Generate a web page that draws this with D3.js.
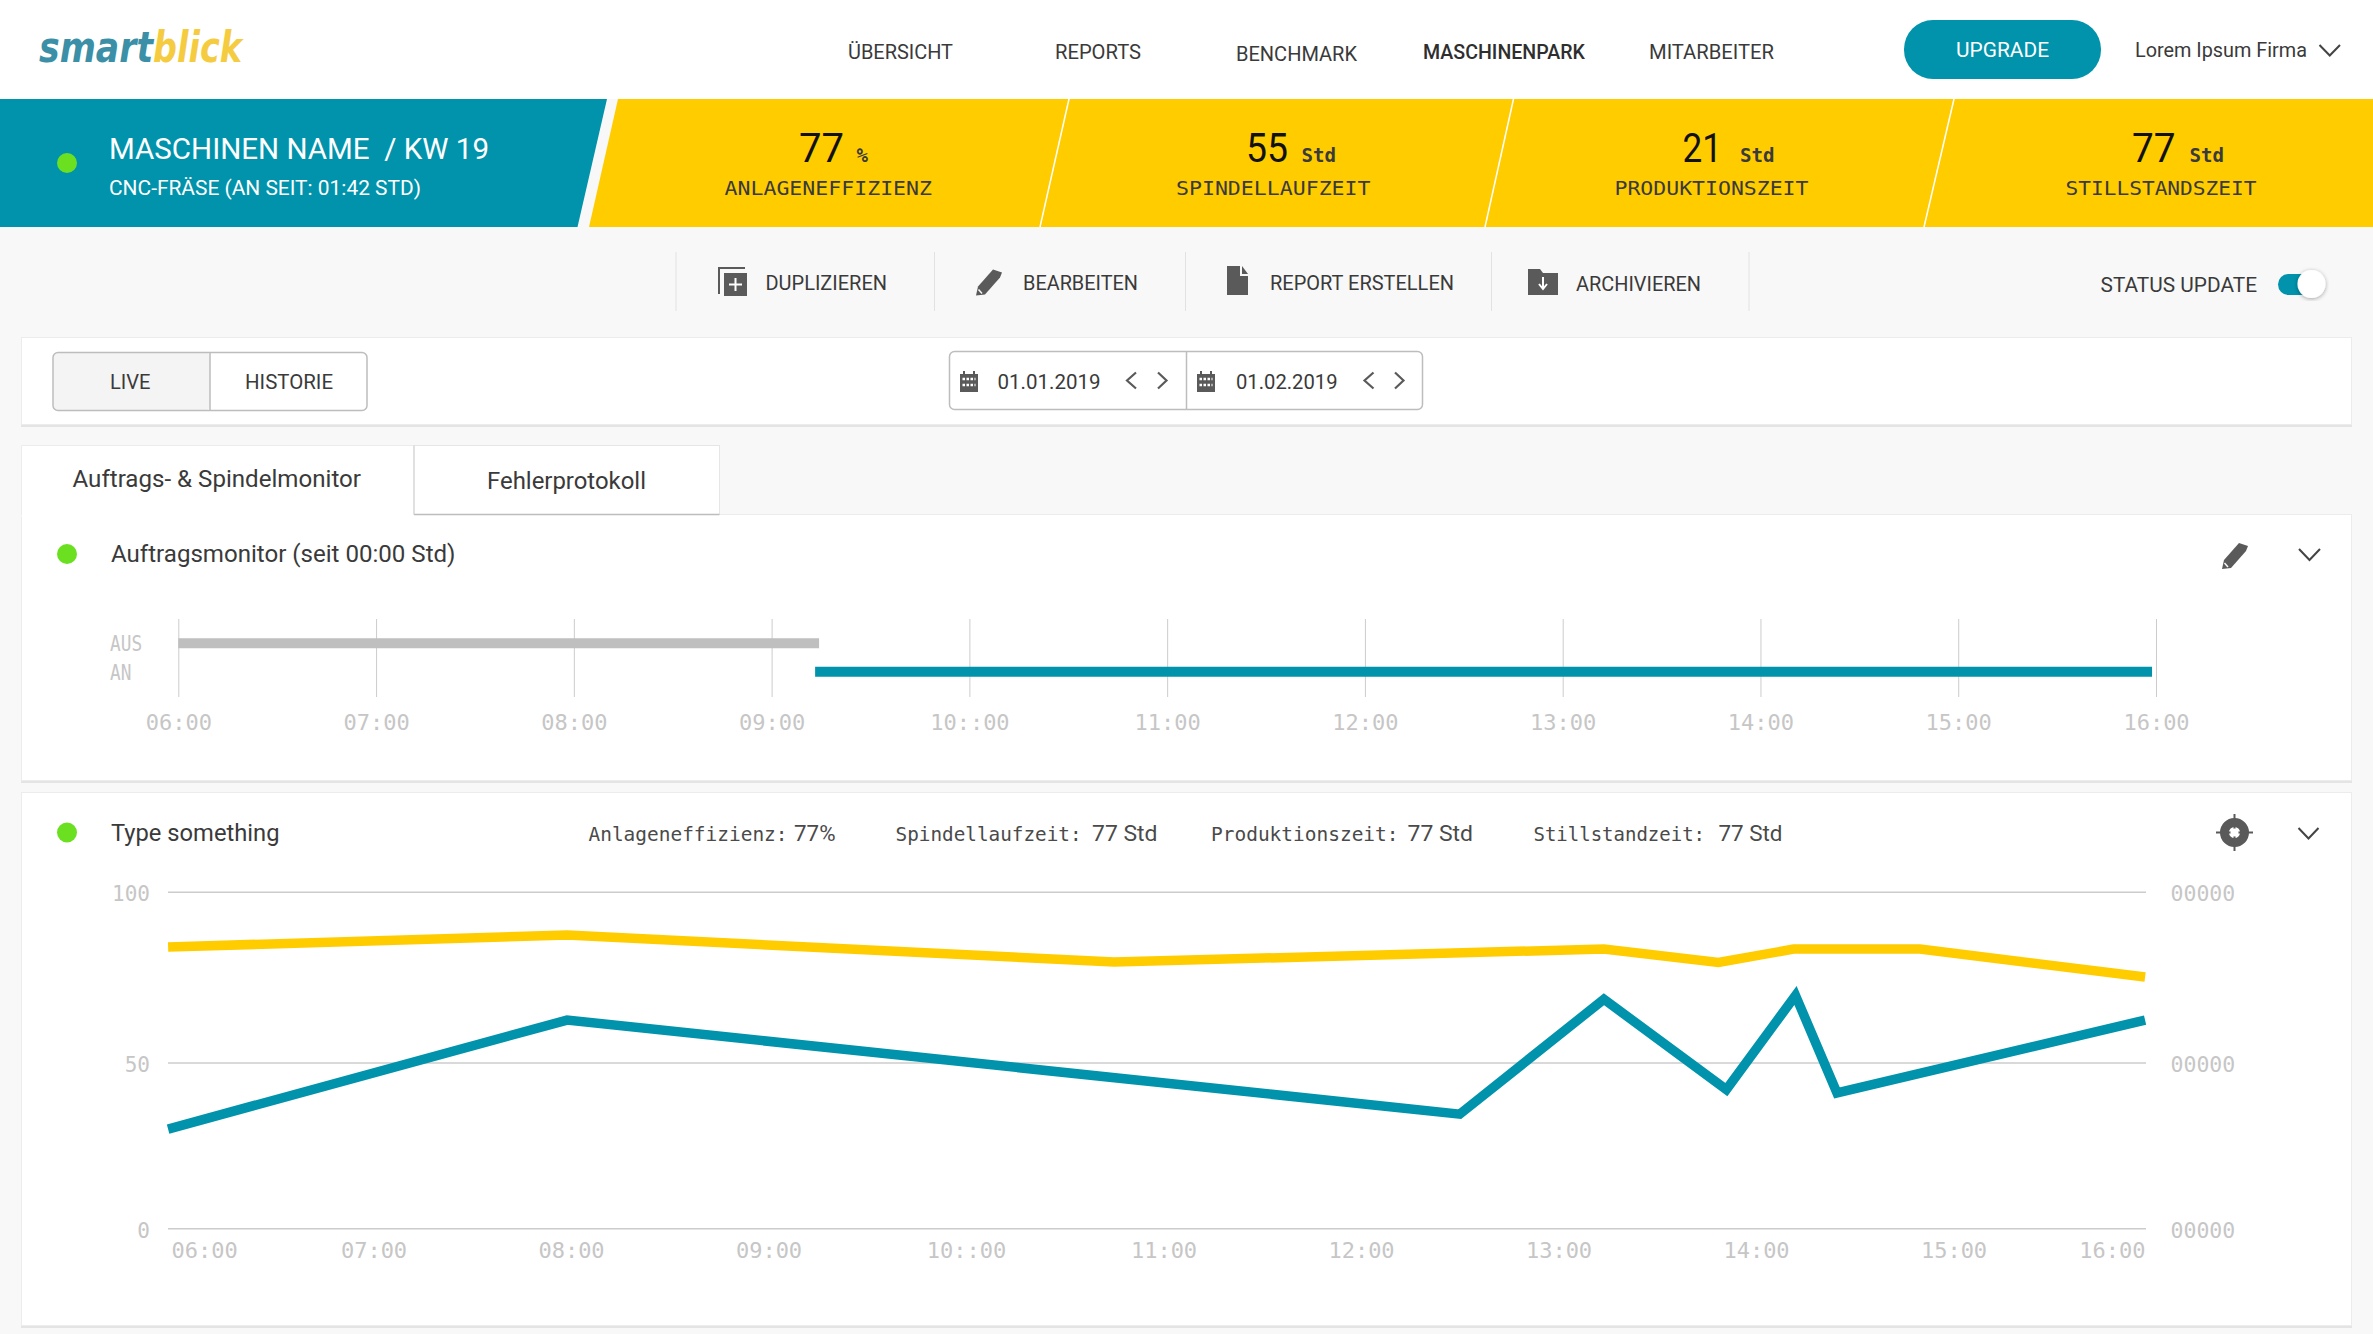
<!DOCTYPE html>
<html>
<head>
<meta charset="utf-8">
<script src="https://cdn.jsdelivr.net/npm/d3@7"></script>
<style>
    html, body { margin: 0; padding: 0; background: #f8f8f8; overflow: hidden; }
    svg { display: block; }
</style>
</head>
<body>
<svg width="2373" height="1334"></svg>
<script>
// axis ticks, shared by both charts
const hourTicks = [6, 7, 8, 9, 10, 11, 12, 13, 14, 15, 16];
const hourLabels = ["06:00", "07:00", "08:00", "09:00", "10::00", "11:00", "12:00", "13:00", "14:00", "15:00", "16:00"];

// Auftragsmonitor
const statusLabels = ["AUS", "AN"];
const statusStart = [6, 9.22];
const statusEnd = [9.24, 15.98];

// line chart
const percentTicks = [0, 50, 100];
const rightTickLabel = "00000";
const yellowHours = [5.96, 7.98, 10.75, 13.23, 13.81, 14.19, 14.83, 15.97];
const yellowValues = [83.8, 87.3, 79.4, 83.2, 79.3, 83.2, 83.2, 75.0];
const tealHours = [5.96, 7.98, 12.50, 13.23, 13.85, 14.20, 14.41, 15.97];
const tealValues = [29.9, 62.4, 34.4, 68.5, 41.8, 69.6, 40.8, 62.4];

const TEAL = "#0093ab";
const YELLOW = "#ffcc00";
const GREEN = "#6be021";
const ICON = "#5a5a5a";
const GRID = "#cccccc";
const TICK = "#c6c6c6";
const SANS = "Roboto";
const MONO = "'DejaVu Sans Mono'";

let svg = d3.select("svg");

function label(parent, str, x, end, base, opts = {}) {
    return parent.append("text")
        .attr("x", x)
        .attr("y", base)
        .attr("textLength", end - x)
        .attr("lengthAdjust", "spacingAndGlyphs")
        .attr("font-family", opts.font || SANS)
        .attr("font-size", opts.size || 20)
        .attr("font-weight", opts.weight || 400)
        .attr("font-style", opts.italic ? "italic" : "normal")
        .attr("fill", opts.fill || "#3a3a3a")
        .text(str);
}

function poly(points, fill) {
    return svg.append("polygon").attr("points", points.join(" ")).attr("fill", fill);
}

function card(x, y, w, h) {
    svg.append("rect").attr("x", x).attr("y", y + h).attr("width", w).attr("height", 3).attr("fill", "#e4e4e4");
    svg.append("rect").attr("x", x + 0.5).attr("y", y + 0.5).attr("width", w - 1).attr("height", h)
        .attr("fill", "#fff").attr("stroke", "#ececec");
}

function chevron(x0, x1, y0, y1, dir, color, width) {
    let pts;
    if (dir == "down") pts = [[x0, y0], [(x0 + x1) / 2, y1], [x1, y0]];
    if (dir == "left") pts = [[x1, y0], [x0, (y0 + y1) / 2], [x1, y1]];
    if (dir == "right") pts = [[x0, y0], [x1, (y0 + y1) / 2], [x0, y1]];
    svg.append("path").attr("d", d3.line()(pts)).attr("fill", "none")
        .attr("stroke", color).attr("stroke-width", width);
}

function dot(x, y) {
    svg.append("circle").attr("cx", x).attr("cy", y).attr("r", 10).attr("fill", GREEN);
}

function pencil(x, y) {
    let g = svg.append("g").attr("transform", `translate(${x},${y})`).attr("fill", ICON);
    g.append("path").attr("d", "M0 26 L2 17 L17 0 L26 3 L24 8 L9 25 Z");
    g.append("path").attr("d", "M2.5 20 L6 24").attr("stroke", "#f8f8f8").attr("stroke-width", 1.5);
}

function drawHeader() {
    label(svg, "smart", 39, 153, 62, {font: "'DejaVu Sans'", size: 42, weight: 700, italic: true, fill: "#3b8fa6"});
    label(svg, "blick", 153, 242, 62, {font: "'DejaVu Sans'", size: 42, weight: 700, italic: true, fill: "#f5cc3f"});

    label(svg, "ÜBERSICHT", 848, 953, 59);
    label(svg, "REPORTS", 1055, 1141, 59);
    label(svg, "BENCHMARK", 1236, 1357, 61);
    label(svg, "MASCHINENPARK", 1423, 1585, 59, {weight: 500, fill: "#2e2e2e"});
    label(svg, "MITARBEITER", 1649, 1774, 59);

    svg.append("rect").attr("x", 1904).attr("y", 20).attr("width", 197).attr("height", 59).attr("rx", 29).attr("fill", TEAL);
    label(svg, "UPGRADE", 1956, 2049, 57, {fill: "#fff"});
    label(svg, "Lorem Ipsum Firma", 2135, 2307, 56.5);
    chevron(2319.5, 2340, 45, 55.5, "down", "#444", 2);

    poly([[0, 99], [607, 99], [577.5, 227], [0, 227]], TEAL);
    poly([[618, 99], [2373, 99], [2373, 227], [589, 227]], YELLOW);
    for (let [top, bottom] of [[1069, 1040], [1513.5, 1485], [1954, 1924]]) {
        svg.append("line").attr("x1", top).attr("y1", 99).attr("x2", bottom).attr("y2", 227)
            .attr("stroke", "#fff").attr("stroke-width", 1.5);
    }
    dot(67, 163);
    label(svg, "MASCHINEN NAME  / KW 19", 109, 489, 159, {size: 30, fill: "#fff"}).attr("xml:space", "preserve");
    label(svg, "CNC-FRÄSE (AN SEIT: 01:42 STD)", 109, 421, 194.5, {size: 20, fill: "#fff"});

    let kpis = [
        ["77", 799, 844, "%", 856.5, 868, "ANLAGENEFFIZIENZ", 724.5, 932],
        ["55", 1246, 1288, "Std", 1301.5, 1336, "SPINDELLAUFZEIT", 1176, 1370.5],
        ["21", 1682.5, 1722, "Std", 1740, 1774.5, "PRODUKTIONSZEIT", 1614.5, 1808.5],
        ["77", 2132, 2175.5, "Std", 2189.5, 2224, "STILLSTANDSZEIT", 2065.5, 2256.5]
    ];
    for (let k of kpis) {
        label(svg, k[0], k[1], k[2], 162, {size: 40, fill: "#111"});
        label(svg, k[3], k[4], k[5], 162, {font: MONO, size: 19, weight: 700, fill: "#3a3a3a"});
        label(svg, k[6], k[7], k[8], 194.5, {font: MONO, size: 20, fill: "#3a3a3a"});
    }
}

function drawToolbar() {
    for (let x of [676, 934.5, 1185.5, 1491.5, 1749]) {
        svg.append("line").attr("x1", x).attr("x2", x).attr("y1", 252).attr("y2", 311).attr("stroke", "#e2e2e2");
    }
    label(svg, "DUPLIZIEREN", 765.5, 887, 290);
    label(svg, "BEARBEITEN", 1023, 1138, 290);
    label(svg, "REPORT ERSTELLEN", 1270, 1454, 290);
    label(svg, "ARCHIVIEREN", 1576, 1701, 291);
    label(svg, "STATUS UPDATE", 2100.5, 2257, 292);

    // duplizieren
    svg.append("path").attr("d", "M719 294 V268 H745").attr("fill", "none").attr("stroke", ICON).attr("stroke-width", 2);
    svg.append("rect").attr("x", 724).attr("y", 273).attr("width", 23).attr("height", 23).attr("fill", ICON);
    svg.append("path").attr("d", "M735.5 278 V291 M729 284.5 H742").attr("stroke", "#fff").attr("stroke-width", 2);
    pencil(976, 269.5);
    // report
    svg.append("path").attr("d", "M1227 266 H1240 V276 H1248 V295 H1227 Z").attr("fill", ICON);
    svg.append("path").attr("d", "M1242 266 L1248 274 H1242 Z").attr("fill", ICON);
    // archivieren
    svg.append("path").attr("d", "M1528 269 H1540 L1543 273 H1558 V295 H1528 Z").attr("fill", ICON);
    svg.append("path").attr("d", "M1543 277 V288 M1539 284 L1543 289 L1547 284").attr("fill", "none").attr("stroke", "#fff").attr("stroke-width", 2);

    // toggle
    let shadow = svg.append("defs").append("filter").attr("id", "knob");
    shadow.append("feDropShadow").attr("dx", 0).attr("dy", 1).attr("stdDeviation", 2).attr("flood-opacity", 0.35);
    svg.append("rect").attr("x", 2278).attr("y", 274).attr("width", 46).attr("height", 21).attr("rx", 10.5).attr("fill", TEAL);
    svg.append("circle").attr("cx", 2311.5).attr("cy", 284).attr("r", 14).attr("fill", "#fff").attr("filter", "url(#knob)");
}

function calendar(x) {
    svg.append("rect").attr("x", x).attr("y", 374).attr("width", 18).attr("height", 18).attr("fill", ICON);
    svg.append("path").attr("d", `M${x + 4} 371 V375 M${x + 14} 371 V375`).attr("stroke", ICON).attr("stroke-width", 2);
    for (let r of [379, 385]) {
        svg.append("path").attr("d", `M${x + 2.5} ${r} H${x + 15.5}`).attr("stroke", "#fff").attr("stroke-width", 2.5).attr("stroke-dasharray", "2.5 1.5");
    }
}

function drawFilters() {
    card(21, 337, 2331, 87);

    svg.append("rect").attr("x", 53).attr("y", 352.5).attr("width", 157).attr("height", 58).attr("rx", 5).attr("fill", "#f4f4f4");
    svg.append("rect").attr("x", 53).attr("y", 352.5).attr("width", 314).attr("height", 58).attr("rx", 5).attr("fill", "none").attr("stroke", "#bdbdbd").attr("stroke-width", 1.5);
    svg.append("line").attr("x1", 210).attr("x2", 210).attr("y1", 352.5).attr("y2", 410.5).attr("stroke", "#bdbdbd").attr("stroke-width", 1.5);
    label(svg, "LIVE", 110, 150.5, 389);
    label(svg, "HISTORIE", 245, 333, 389);

    svg.append("rect").attr("x", 949.5).attr("y", 351.5).attr("width", 473).attr("height", 58).attr("rx", 5).attr("fill", "#fff").attr("stroke", "#bdbdbd").attr("stroke-width", 1.5);
    svg.append("line").attr("x1", 1186.5).attr("x2", 1186.5).attr("y1", 351.5).attr("y2", 409.5).attr("stroke", "#bdbdbd").attr("stroke-width", 1.5);
    calendar(960);
    calendar(1197);
    label(svg, "01.01.2019", 997.5, 1100.5, 389);
    label(svg, "01.02.2019", 1236, 1337.5, 389);
    chevron(1127, 1136, 372.5, 388.5, "left", ICON, 2.2);
    chevron(1158, 1166.5, 372.5, 388.5, "right", ICON, 2.2);
    chevron(1364.5, 1373.5, 372.5, 388.5, "left", ICON, 2.2);
    chevron(1395, 1403.5, 372.5, 388.5, "right", ICON, 2.2);
}

function drawTabs() {
    card(21, 514, 2331, 266);
    svg.append("rect").attr("x", 21.5).attr("y", 445.5).attr("width", 392.5).attr("height", 71).attr("fill", "#fff").attr("stroke", "none");
    svg.append("path").attr("d", "M21.5 515 V445.5 H414").attr("fill", "none").attr("stroke", "#ececec");
    svg.append("rect").attr("x", 414).attr("y", 445.5).attr("width", 305.5).attr("height", 69).attr("fill", "#fff").attr("stroke", "#e6e6e6");
    svg.append("line").attr("x1", 414).attr("x2", 719.5).attr("y1", 514.5).attr("y2", 514.5).attr("stroke", "#bdbdbd").attr("stroke-width", 1.5);
    svg.append("line").attr("x1", 414).attr("x2", 414).attr("y1", 445.5).attr("y2", 514.5).attr("stroke", "#cfcfcf").attr("stroke-width", 1);
    label(svg, "Auftrags- & Spindelmonitor", 72.5, 361, 486.5, {size: 23});
    label(svg, "Fehlerprotokoll", 487, 646, 489, {size: 23});
}

function drawStatusChart() {
    dot(67, 554);
    label(svg, "Auftragsmonitor (seit 00:00 Std)", 111, 455.5, 562, {size: 23});
    pencil(2222, 543);
    chevron(2299, 2320, 549, 560, "down", "#444", 2);

    let x = d3.scaleLinear().domain([6, 16]).range([178.3, 2156]);
    let y = d3.scaleBand().domain(statusLabels).range([629, 686]);

    let axis = svg.append("g").attr("transform", "translate(0,697)")
        .call(d3.axisBottom(x)
            .tickValues(hourTicks)
            .tickFormat((d, i) => hourLabels[i])
            .tickSizeInner(-78)
            .tickSizeOuter(0)
            .tickPadding(17));
    axis.select(".domain").remove();
    axis.selectAll("line").attr("stroke", GRID);
    axis.selectAll("text").attr("font-family", MONO).attr("font-size", 22).attr("fill", TICK);

    svg.selectAll(".status").data(statusLabels).enter().append("rect")
        .attr("class", "status")
        .attr("x", (d, i) => x(statusStart[i]))
        .attr("width", (d, i) => x(statusEnd[i]) - x(statusStart[i]))
        .attr("y", d => y(d) + y.bandwidth() / 2 - 5)
        .attr("height", 10)
        .attr("fill", (d, i) => i == 0 ? "#bfbfbf" : TEAL);

    svg.selectAll(".statusLabel").data(statusLabels).enter().append("text")
        .attr("class", "statusLabel")
        .attr("x", 110)
        .attr("y", d => y(d) + y.bandwidth() / 2 + 8)
        .attr("textLength", d => d.length * 10.7)
        .attr("lengthAdjust", "spacingAndGlyphs")
        .attr("font-family", MONO).attr("font-size", 22).attr("fill", TICK)
        .text(d => d);
}

function drawLineChart() {
    card(21, 792, 2331, 533);
    dot(67, 832.5);
    label(svg, "Type something", 111, 279.5, 841, {size: 23});

    let stats = [
        ["Anlageneffizienz:", 588.5, 787.5, "77%", 794, 835.5],
        ["Spindellaufzeit:", 895.5, 1081.5, "77 Std", 1092, 1157.5],
        ["Produktionszeit:", 1211, 1398.5, "77 Std", 1407.5, 1473],
        ["Stillstandzeit:", 1533.5, 1705, "77 Std", 1718.5, 1782.5]
    ];
    for (let s of stats) {
        label(svg, s[0], s[1], s[2], 841, {font: MONO, size: 20, fill: "#4a4a4a"});
        label(svg, s[3], s[4], s[5], 841, {size: 22, fill: "#4a4a4a"});
    }

    // target icon
    svg.append("circle").attr("cx", 2234.5).attr("cy", 832.5).attr("r", 10).attr("fill", "none").attr("stroke", ICON).attr("stroke-width", 9);
    svg.append("path").attr("d", "M2234.5 814 V851 M2216 832.5 H2253").attr("stroke", ICON).attr("stroke-width", 2);
    svg.append("circle").attr("cx", 2234.5).attr("cy", 832.5).attr("r", 4).attr("fill", "#fff");
    chevron(2298.5, 2318.5, 828, 838.5, "down", "#444", 2);

    let left = 168, right = 2146;
    let x = d3.scaleLinear().domain([6, 16]).range([176, 2151]);
    let y = d3.scaleLinear().domain([0, 50, 100]).range([1228.2, 1062.4, 891.7]);

    let leftAxis = svg.append("g").attr("transform", `translate(${left},0)`)
        .call(d3.axisLeft(y)
            .tickValues(percentTicks)
            .tickSizeInner(-(right - left))
            .tickSizeOuter(0)
            .tickPadding(18));
    leftAxis.select(".domain").remove();
    leftAxis.selectAll("line").attr("stroke", GRID).attr("stroke-width", 1.5);
    leftAxis.selectAll("text").attr("dy", "0.42em").attr("font-family", MONO).attr("font-size", 21).attr("fill", TICK);

    let rightAxis = svg.append("g").attr("transform", `translate(${right},0)`)
        .call(d3.axisRight(y)
            .tickValues(percentTicks)
            .tickFormat(() => rightTickLabel)
            .tickSize(0)
            .tickPadding(24.5));
    rightAxis.select(".domain").remove();
    rightAxis.selectAll("text").attr("dy", "0.42em").attr("font-family", MONO).attr("font-size", 21.5).attr("fill", TICK);

    let bottomAxis = svg.append("g").attr("transform", "translate(0,1228)")
        .call(d3.axisBottom(x)
            .tickValues(hourTicks)
            .tickFormat((d, i) => hourLabels[i])
            .tickSize(0)
            .tickPadding(14));
    bottomAxis.select(".domain").remove();
    bottomAxis.selectAll("text").attr("font-family", MONO).attr("font-size", 22).attr("fill", TICK);
    // first and last label stay inside the plot
    bottomAxis.selectAll("text").filter((d, i) => i == 0).attr("text-anchor", "start").attr("x", -5);
    bottomAxis.selectAll("text").filter((d, i) => i == hourTicks.length - 1).attr("text-anchor", "end").attr("x", -6);

    let line = d3.line().x(d => x(d[0])).y(d => y(d[1]));
    svg.append("path")
        .datum(d3.zip(yellowHours, yellowValues))
        .attr("fill", "none").attr("stroke", YELLOW).attr("stroke-width", 9.5)
        .attr("stroke-linejoin", "miter").attr("d", line);
    svg.append("path")
        .datum(d3.zip(tealHours, tealValues))
        .attr("fill", "none").attr("stroke", TEAL).attr("stroke-width", 9.5)
        .attr("stroke-linejoin", "miter").attr("stroke-miterlimit", 10).attr("d", line);
}

function drawAll() {
    svg.append("rect").attr("width", 2373).attr("height", 1334).attr("fill", "#f8f8f8");
    svg.append("rect").attr("width", 2373).attr("height", 99).attr("fill", "#fff");
    drawHeader();
    drawToolbar();
    drawFilters();
    drawTabs();
    drawStatusChart();
    drawLineChart();
}

drawAll();
</script>
</body>
</html>
